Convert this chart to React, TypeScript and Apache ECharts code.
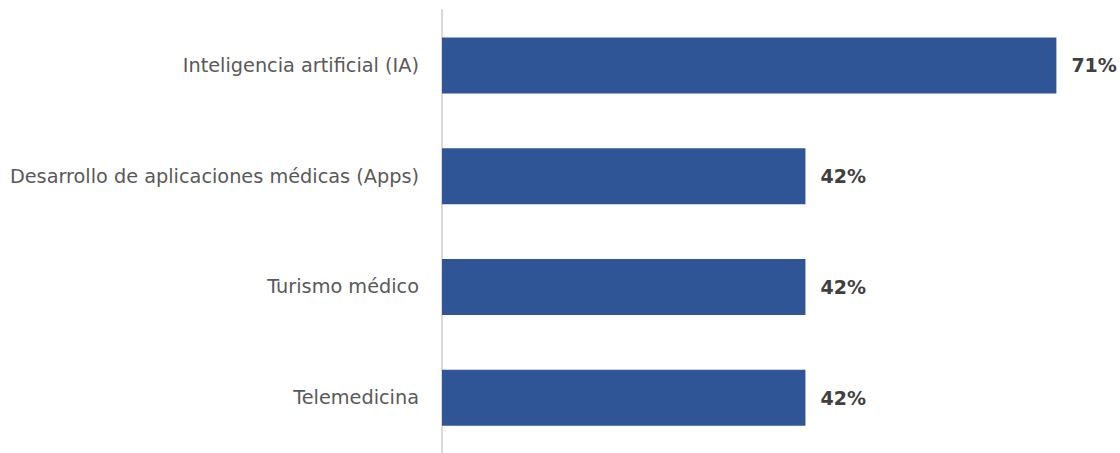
import React, { useEffect, useRef } from "react";
import * as echarts from "echarts";

const categories = [
  "Telemedicina",
  "Turismo médico",
  "Desarrollo de aplicaciones médicas (Apps)",
  "Inteligencia artificial (IA)",
];
const values = [42, 42, 42, 71];

export default function App() {
  const ref = useRef<HTMLDivElement>(null);
  useEffect(() => {
    document.body.style.margin = "0";
    const chart = echarts.init(ref.current!, null, { renderer: "svg" });
    chart.setOption({
      animation: false,
      grid: { left: 442, top: 10, width: 649, height: 448 },
      xAxis: {
        type: "value",
        min: 0,
        max: 75,
        show: false,
      },
      yAxis: {
        type: "category",
        data: categories,
        axisLine: { show: true, lineStyle: { color: "#d9d9d9", width: 2 } },
        axisTick: { show: false },
        axisLabel: {
          margin: 23,
          color: "#595959",
          fontSize: 19.3,
          fontFamily: "DejaVu Sans",
        },
      },
      series: [
        {
          type: "bar",
          data: values,
          barWidth: 56,
          itemStyle: { color: "#2F5597" },
          label: {
            show: true,
            position: "right",
            distance: 15,
            formatter: "{c}%",
            color: "#404040",
            fontWeight: "bold",
            fontSize: 19,
            fontFamily: "DejaVu Sans",
          },
        },
      ],
    });
    return () => chart.dispose();
  }, []);
  return <div ref={ref} style={{ width: 1120, height: 453 }} />;
}
